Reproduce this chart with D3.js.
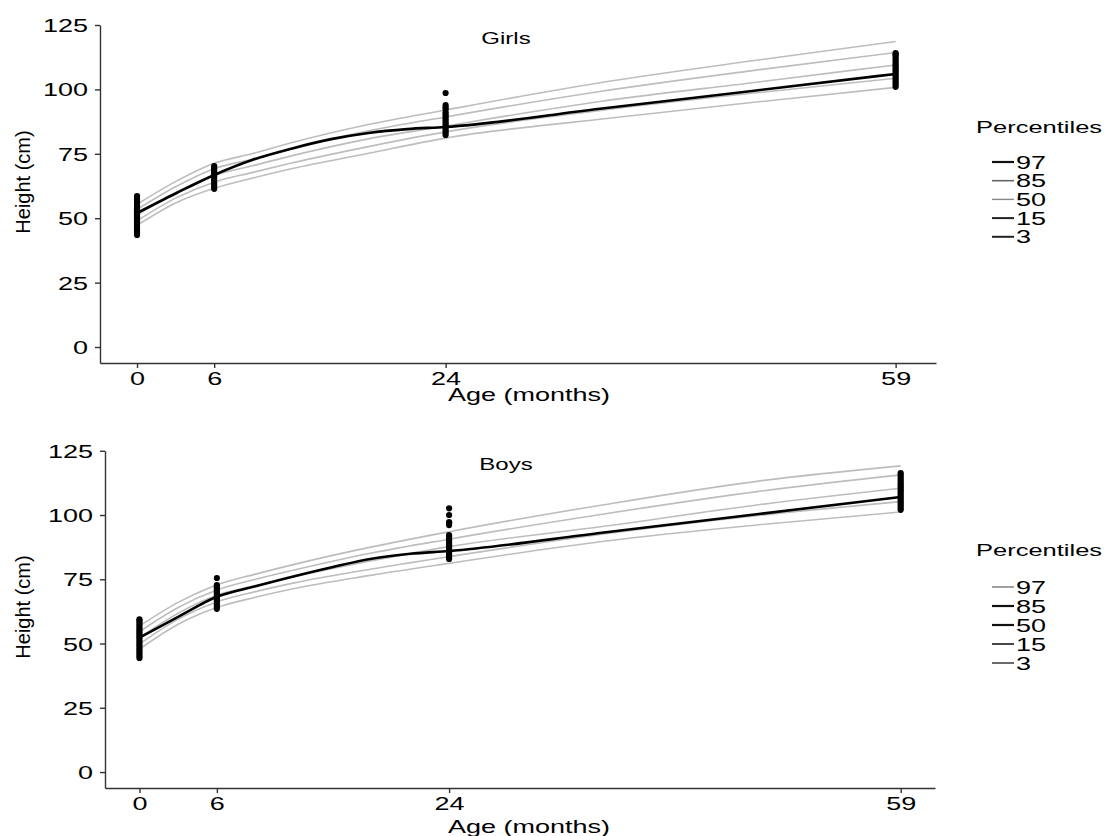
<!DOCTYPE html>
<meta charset="utf-8">
<script src="https://cdn.jsdelivr.net/npm/d3@7"></script>
<style>
  body { margin: 0; background: #fff; }
  text { font-family: "Liberation Sans", Arial, sans-serif; }
</style>
<div id="chart"></div>
<script>

// ages (months) where the percentile curves were read
var pctAges = [0, 3, 6, 9, 12, 18, 24, 36, 48, 59];
var pctLabels = ["97", "85", "50", "15", "3"];

// girls percentile curves
var girlsP97 = [55.4, 64.2, 71.3, 75.1, 79.3, 86.4, 92.0, 102.6, 111.2, 118.6];
var girlsP85 = [53.4, 62.2, 69.2, 73.0, 77.0, 83.9, 89.3, 99.2, 107.4, 114.3];
var girlsP50 = [51.2, 60.0, 66.6, 70.4, 74.2, 80.8, 85.8, 95.3, 102.7, 109.5];
var girlsP15 = [49.0, 57.8, 64.0, 67.8, 71.4, 77.8, 83.5, 91.8, 98.6, 104.3];
var girlsP3  = [47.2, 55.9, 61.6, 65.6, 69.2, 75.2, 81.1, 88.4, 95.0, 100.8];

// boys percentile curves
var boysP97 = [56.8, 66.0, 72.8, 77.0, 80.8, 87.6, 93.5, 104.0, 113.2, 119.1];
var boysP85 = [54.6, 64.0, 70.8, 75.0, 78.6, 85.2, 90.6, 100.4, 109.2, 115.6];
var boysP50 = [52.2, 61.8, 68.8, 72.6, 76.0, 82.2, 87.7, 95.6, 104.0, 110.4];
var boysP15 = [49.8, 59.5, 66.2, 70.2, 73.6, 79.0, 83.8, 92.6, 99.8, 105.2];
var boysP3  = [47.8, 57.5, 64.0, 68.0, 71.4, 76.6, 81.2, 89.8, 96.2, 101.2];

// sample line (black)
var medAges  = [0, 3, 6, 9, 12, 15, 18, 21, 24, 36, 48, 59];
var girlsMed = [52.0, 59.6, 66.8, 72.7, 77.0, 80.6, 83.1, 84.6, 85.4, 92.5, 99.5, 106.0];
var boysMed  = [52.3, 60.4, 68.2, 72.3, 76.2, 79.8, 83.0, 84.9, 86.0, 93.2, 100.4, 107.0];

// observed heights at each visit age
var visitAges = [0, 6, 24, 59];
var girls0  = [43.5, 44.3, 45.1, 45.9, 46.7, 47.5, 48.3, 49.1, 49.9, 50.7, 51.5, 52.3, 53.1, 53.9, 54.7, 55.5, 56.3, 57.1, 57.9, 58.6];
var girls6  = [61.4, 62.2, 63.0, 63.8, 64.6, 65.4, 66.2, 67.0, 67.8, 68.6, 69.4, 70.2];
var girls24 = [82.3, 83.1, 83.9, 84.7, 85.5, 86.3, 87.1, 87.9, 88.7, 89.5, 90.3, 91.1, 92.3, 93.1, 93.9, 98.6];
var girls59 = [101.0, 101.8, 102.6, 103.4, 104.2, 105.0, 105.8, 106.6, 107.4, 108.2, 109.0, 109.8, 110.6, 111.4, 112.2, 113.0, 113.6, 114.1];
var boys0   = [44.4, 45.2, 46.0, 46.8, 47.6, 48.4, 49.2, 50.0, 50.8, 51.6, 52.4, 53.2, 54.0, 54.8, 55.6, 56.4, 57.2, 58.0, 58.8, 59.4];
var boys6   = [63.5, 64.3, 65.1, 65.9, 66.7, 67.5, 68.3, 69.1, 69.9, 70.7, 71.5, 72.1, 72.7, 75.5];
var boys24  = [82.9, 83.7, 84.5, 85.3, 86.1, 86.9, 87.7, 88.5, 89.3, 90.1, 90.9, 91.5, 92.2, 96.1, 96.9, 97.2, 100.0, 102.6];
var boys59  = [102.0, 102.8, 103.6, 104.4, 105.2, 106.0, 106.8, 107.6, 108.4, 109.2, 110.0, 110.8, 111.6, 112.4, 113.2, 114.0, 114.8, 115.6, 116.3];

var yTicks = [0, 25, 50, 75, 100, 125];

var SX = 1.5;   // the source text is stretched sideways
var fontTick = 18;

var svg = d3.select("#chart")
  .append("svg")
    .attr("width", 1104)
    .attr("height", 836);

function wideText(g, x, y, str, size, anchor) {
  return g.append("text")
    .attr("transform", "translate(" + x + "," + y + ") scale(" + SX + ",1)")
    .attr("text-anchor", anchor || "start")
    .style("font-size", size + "px")
    .attr("fill", "#000")
    .text(str);
}

function drawPanel(p) {
  var x = d3.scaleLinear().domain(p.xDomain).range([p.left, p.right]);
  var y = d3.scaleLinear().domain([-6.2, 125]).range([p.bottom, p.top]);
  var g = svg.append("g");

  // y axis
  var ya = g.append("g")
    .attr("transform", "translate(" + p.left + ",0)")
    .call(d3.axisLeft(y).tickValues(yTicks).tickSize(5).tickSizeOuter(0));
  ya.selectAll("text")
    .attr("x", null).attr("dy", "0.36em")
    .attr("transform", "translate(-12,0) scale(" + SX + ",1)")
    .style("font-size", fontTick + "px").attr("fill", "#000");

  // x axis
  var xa = g.append("g")
    .attr("transform", "translate(0," + p.bottom + ")")
    .call(d3.axisBottom(x).tickValues(visitAges).tickSize(5).tickPadding(4).tickSizeOuter(0));
  xa.selectAll("text")
    .attr("transform", "scale(" + SX + ",1)")
    .style("font-size", fontTick + "px").attr("fill", "#000");

  g.selectAll(".domain, .tick line").attr("stroke", "#333").attr("stroke-width", 1.4);

  // percentile curves
  var line = d3.line()
    .x(function(d) { return x(d[0]); })
    .y(function(d) { return y(d[1]); })
    .curve(d3.curveMonotoneX);

  p.pcts.forEach(function(vals) {
    g.append("path")
      .datum(pctAges.map(function(a, i) { return [a, vals[i]]; }))
      .attr("d", line)
      .attr("fill", "none")
      .attr("stroke", "#bdbdbd")
      .attr("stroke-width", 1.6);
  });

  // sample line
  g.append("path")
    .datum(medAges.map(function(a, i) { return [a, p.med[i]]; }))
    .attr("d", line)
    .attr("fill", "none")
    .attr("stroke", "#000")
    .attr("stroke-width", 2.6);

  // observations
  var pts = [];
  p.obs.forEach(function(list, k) {
    list.forEach(function(v) { pts.push([visitAges[k], v]); });
  });
  g.selectAll("circle.obs")
    .data(pts)
    .enter()
    .append("circle")
      .attr("class", "obs")
      .attr("cx", function(d) { return x(d[0]); })
      .attr("cy", function(d) { return y(d[1]); })
      .attr("r", 3.1)
      .attr("fill", "#000");

  // titles
  wideText(g, p.titleX, p.titleY, p.title, 16, "middle");
  wideText(g, p.xLabelX, p.xLabelY, "Age (months)", 18, "middle");
  g.append("text")
    .attr("transform", "translate(" + p.yLabelX + "," + p.yLabelY + ") rotate(-90)")
    .attr("text-anchor", "middle")
    .style("font-size", "20px")
    .attr("fill", "#000")
    .text("Height (cm)");

  // legend
  var leg = g.append("g");
  wideText(leg, p.legX, p.legY, "Percentiles", 17, "start");
  pctLabels.forEach(function(lab, i) {
    var ry = p.legY + p.legFirst + i * p.legStep;
    leg.append("line")
      .attr("x1", p.legX + 16).attr("x2", p.legX + 38)
      .attr("y1", ry).attr("y2", ry)
      .attr("stroke", p.legColors[i])
      .attr("stroke-width", p.legWidths[i]);
    wideText(leg, p.legX + 40, ry + 6.5, lab, 18, "start");
  });
}

drawPanel({
  left: 100, right: 936, top: 25, bottom: 363,
  xDomain: [-2.88, 62.14],
  pcts: [girlsP97, girlsP85, girlsP50, girlsP15, girlsP3],
  med: girlsMed,
  obs: [girls0, girls6, girls24, girls59],
  title: "Girls", titleX: 506, titleY: 44,
  xLabelX: 529, xLabelY: 401,
  yLabelX: 30, yLabelY: 182,
  legX: 976, legY: 133, legFirst: 29, legStep: 18.7,
  legColors: ["#111", "#666", "#888", "#222", "#222"],
  legWidths: [2.2, 1.6, 1.4, 2, 2]
});

drawPanel({
  left: 105, right: 935, top: 450.75, bottom: 788,
  xDomain: [-2.67, 61.66],
  pcts: [boysP97, boysP85, boysP50, boysP15, boysP3],
  med: boysMed,
  obs: [boys0, boys6, boys24, boys59],
  title: "Boys", titleX: 506, titleY: 470,
  xLabelX: 529, xLabelY: 833,
  yLabelX: 30, yLabelY: 607,
  legX: 976, legY: 556, legFirst: 31, legStep: 19,
  legColors: ["#777", "#111", "#111", "#333", "#444"],
  legWidths: [1.4, 2.2, 2.2, 1.8, 1.6]
});

</script>
